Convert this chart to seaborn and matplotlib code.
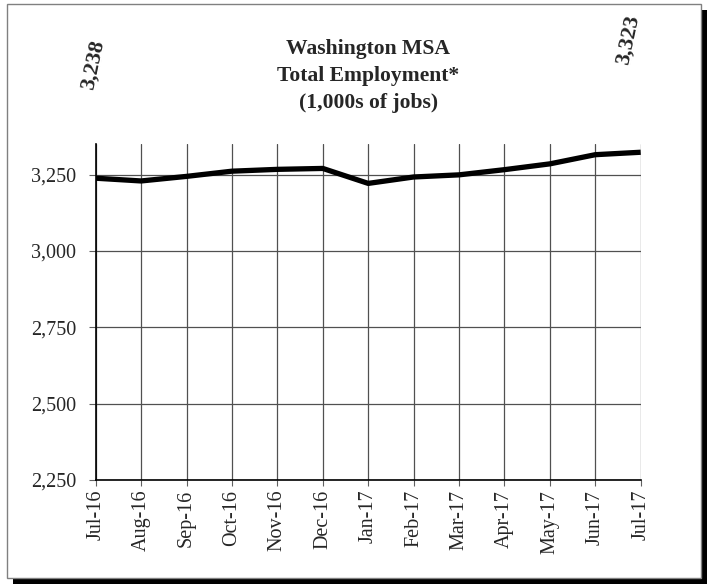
import numpy as np
import pandas as pd
import seaborn as sns
import matplotlib.pyplot as plt
from matplotlib.patches import Rectangle
from matplotlib.ticker import FuncFormatter

# Washington MSA total employment, 1,000s of jobs
months = ['Jul-16', 'Aug-16', 'Sep-16', 'Oct-16', 'Nov-16', 'Dec-16', 'Jan-17',
          'Feb-17', 'Mar-17', 'Apr-17', 'May-17', 'Jun-17', 'Jul-17']
jobs = [3238, 3229, 3244, 3261, 3267, 3270, 3221, 3242, 3249, 3266, 3285, 3315, 3323]
y_ticks = [2250, 2500, 2750, 3000, 3250]

df = pd.DataFrame({'pos': np.arange(len(months)), 'month': months, 'jobs': jobs})

sns.set_theme(style='white')
plt.rcParams['font.family'] = ['Liberation Serif', 'DejaVu Serif']

W, H = 710, 584
fig = plt.figure(figsize=(W / 100, H / 100), dpi=100)

# drop shadow + frame round the whole chart
fig.patches.append(Rectangle((13 / W, 0), (707 - 13) / W, (584 - 10) / H,
                             transform=fig.transFigure, facecolor='black',
                             edgecolor='none', zorder=-2))
fig.patches.append(Rectangle((7 / W, (H - 578) / H), (701 - 7) / W, (578 - 4) / H,
                             transform=fig.transFigure, facecolor='white',
                             edgecolor='#808080', linewidth=1, zorder=-1))

ax = fig.add_axes([95.7 / W, (H - 480) / H, (640.7 - 95.7) / W, (480 - 144) / H])
ax.set_zorder(2)
ax.set_facecolor('none')

sns.lineplot(data=df, x='pos', y='jobs', color='black', linewidth=3.8,
             ax=ax, solid_capstyle='butt', zorder=5)

ax.set_xlim(0, len(months) - 1)
ax.set_ylim(2250, 3350)
ax.set_xticks(df['pos'])
ax.set_xticklabels(months, rotation=90, fontsize=14.5)
ax.set_yticks(y_ticks)
ax.yaxis.set_major_formatter(FuncFormatter(lambda v, p: f'{v:,.0f}'))
ax.tick_params(axis='y', labelsize=14.5, length=5, width=0.8, color='#606060',
               direction='out', pad=9, left=True)
ax.tick_params(axis='x', length=4, width=0.8, color='#606060',
               direction='out', pad=3, bottom=True)
ax.set_xlabel('')
ax.set_ylabel('')

ax.grid(True, color='#505050', linewidth=0.9)
ax.set_axisbelow(True)
for s in ['top', 'right']:
    ax.spines[s].set_visible(False)
for s in ['left', 'bottom']:
    ax.spines[s].set_color('black')
    ax.spines[s].set_linewidth(1.2)

ax.set_title('Washington MSA\nTotal Employment*\n(1,000s of jobs)',
             fontsize=15.6, fontweight='bold', linespacing=1.45, pad=26)

# first and last values labelled above the line
ax.annotate(f'{jobs[0]:,}', xy=(df['pos'].iloc[0], jobs[0]), xytext=(-2, 82),
            textcoords='offset points', rotation=78, ha='center', va='center',
            fontsize=16, fontweight='bold', annotation_clip=False)
ax.annotate(f'{jobs[-1]:,}', xy=(df['pos'].iloc[-1], jobs[-1]), xytext=(-9, 81),
            textcoords='offset points', rotation=78, ha='center', va='center',
            fontsize=16, fontweight='bold', annotation_clip=False)

fig.savefig('out.png', dpi=100)
